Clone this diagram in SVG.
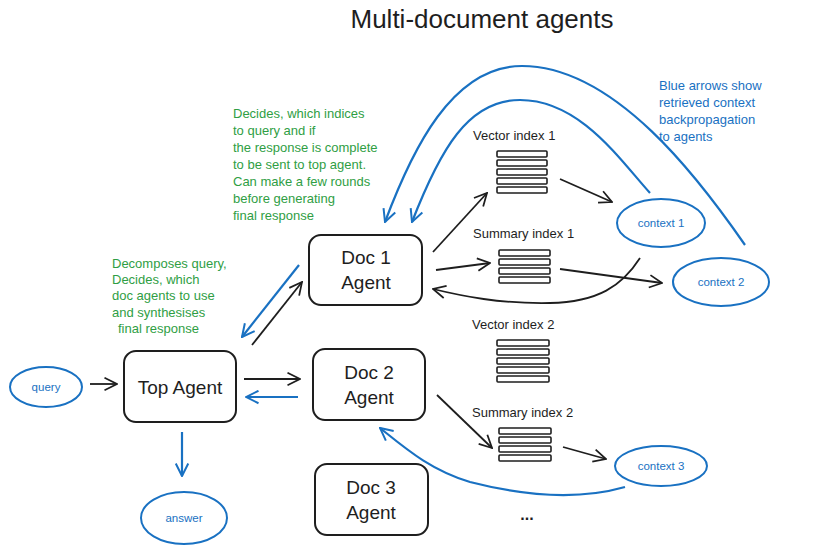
<svg xmlns="http://www.w3.org/2000/svg" width="816" height="556" viewBox="0 0 816 556">
<style>
text{font-family:"Liberation Sans",Arial,sans-serif;}
.box{fill:#fff;stroke:#1e1e1e;stroke-width:2;}
.ell{fill:#fff;stroke:#1971c2;stroke-width:2;}
.bar{fill:#fff;stroke:#1e1e1e;stroke-width:1.6;}
.bt{font-size:19px;fill:#1e1e1e;text-anchor:middle;}
.et{font-size:11.5px;fill:#1971c2;text-anchor:middle;}
.lbl{font-size:13px;fill:#1e1e1e;}
.green{font-size:13px;fill:#2f9e44;}
.blue{font-size:13px;fill:#1971c2;}
.cb{fill:none;stroke:#1e1e1e;stroke-width:1.8;marker-end:url(#ab);}
.cl{fill:none;stroke:#1971c2;stroke-width:2.2;marker-end:url(#abl);}
</style>
<defs>
<marker id="ab" viewBox="0 0 12 12" refX="11" refY="6" markerWidth="15" markerHeight="15" markerUnits="userSpaceOnUse" orient="auto"><path d="M1,1 L11,6 L1,11" fill="none" stroke="#1e1e1e" stroke-width="1.4"/></marker>
<marker id="abl" viewBox="0 0 12 12" refX="11" refY="6" markerWidth="15" markerHeight="15" markerUnits="userSpaceOnUse" orient="auto"><path d="M1,1 L11,6 L1,11" fill="none" stroke="#1971c2" stroke-width="1.6"/></marker>
</defs>
<rect width="816" height="556" fill="#fff"/>
<text x="482" y="28" font-size="26" fill="#1e1e1e" text-anchor="middle">Multi-document agents</text>

<g id="connectors">
<path class="cb" d="M90,384 L117,384"/>
<path class="cb" d="M244,379 L300,379"/>
<path class="cl" d="M298,397 L246,397"/>
<path class="cl" d="M182,432 L182,476"/>
<path class="cb" d="M252,345 L302,282"/>
<path class="cl" d="M299,265 L242,337"/>
<path class="cb" d="M433,252 L487,193"/>
<path class="cb" d="M436,270 L490,263"/>
<path class="cb" d="M560,179 L612,202"/>
<path class="cb" d="M560,269 L662,283"/>
<path class="cb" d="M640,258 C622,286 598,302 550,303 C500,304 462,296 433,289"/>
<path class="cl" d="M745,245 C700,180 615,66 522,66 C452,66 412,150 385,222"/>
<path class="cl" d="M650,193 C620,160 580,100 520,100 C468,100 440,150 412,222"/>
<path class="cb" d="M437,395 L492,448"/>
<path class="cb" d="M563,447 L606,459"/>
<path class="cl" d="M625,487 C590,497 540,500 470,482 C430,470 405,448 380,428"/>
</g>

<g id="query"><ellipse class="ell" cx="46" cy="387" rx="36" ry="20"/><text class="et" x="46" y="391">query</text></g>
<g id="top-agent"><rect class="box" x="124" y="351" width="112" height="71" rx="12"/><text class="bt" x="180" y="394">Top Agent</text></g>
<g id="answer"><ellipse class="ell" cx="184" cy="518" rx="43" ry="26"/><text class="et" x="184" y="522">answer</text></g>
<g id="doc1"><rect class="box" x="309" y="235" width="113" height="70" rx="12"/><text class="bt" x="366" y="264">Doc 1</text><text class="bt" x="366" y="289">Agent</text></g>
<g id="doc2"><rect class="box" x="313" y="349" width="112" height="71" rx="12"/><text class="bt" x="369" y="379">Doc 2</text><text class="bt" x="369" y="404">Agent</text></g>
<g id="doc3"><rect class="box" x="315" y="464" width="113" height="71" rx="12"/><text class="bt" x="371" y="494">Doc 3</text><text class="bt" x="371" y="519">Agent</text></g>

<g id="vector-index-1"><text class="lbl" x="473" y="140">Vector index 1</text>
<rect class="bar" x="497" y="151" width="50" height="6" rx="1"/><rect class="bar" x="497" y="160" width="50" height="6" rx="1"/><rect class="bar" x="497" y="169" width="50" height="6" rx="1"/><rect class="bar" x="497" y="178" width="50" height="6" rx="1"/><rect class="bar" x="497" y="187" width="50" height="6" rx="1"/></g>
<g id="summary-index-1"><text class="lbl" x="473" y="238">Summary index 1</text>
<rect class="bar" x="499" y="250" width="51" height="6" rx="1"/><rect class="bar" x="499" y="259" width="51" height="6" rx="1"/><rect class="bar" x="499" y="268" width="51" height="6" rx="1"/><rect class="bar" x="499" y="277" width="51" height="6" rx="1"/></g>
<g id="vector-index-2"><text class="lbl" x="472" y="329">Vector index 2</text>
<rect class="bar" x="497" y="340" width="52" height="6" rx="1"/><rect class="bar" x="497" y="349" width="52" height="6" rx="1"/><rect class="bar" x="497" y="358" width="52" height="6" rx="1"/><rect class="bar" x="497" y="367" width="52" height="6" rx="1"/><rect class="bar" x="497" y="376" width="52" height="6" rx="1"/></g>
<g id="summary-index-2"><text class="lbl" x="472" y="417">Summary index 2</text>
<rect class="bar" x="499" y="428" width="52" height="6" rx="1"/><rect class="bar" x="499" y="437" width="52" height="6" rx="1"/><rect class="bar" x="499" y="446" width="52" height="6" rx="1"/><rect class="bar" x="499" y="455" width="52" height="6" rx="1"/></g>
<g id="ellipsis"><text x="527" y="520" font-size="16" font-weight="bold" fill="#1e1e1e" text-anchor="middle">...</text></g>

<g id="context1"><ellipse class="ell" cx="661" cy="223" rx="44" ry="24"/><text class="et" x="661" y="227">context 1</text></g>
<g id="context2"><ellipse class="ell" cx="721" cy="282" rx="48" ry="24"/><text class="et" x="721" y="286">context 2</text></g>
<g id="context3"><ellipse class="ell" cx="661" cy="466" rx="46" ry="20"/><text class="et" x="661" y="470">context 3</text></g>

<g id="note-doc-agent"><text class="green" x="233" y="118">Decides, which indices</text><text class="green" x="233" y="135">to query and if</text><text class="green" x="233" y="152">the response is complete</text><text class="green" x="233" y="169">to be sent to top agent.</text><text class="green" x="233" y="186">Can make a few rounds</text><text class="green" x="233" y="203">before generating</text><text class="green" x="233" y="220">final response</text></g>
<g id="note-top-agent"><text class="green" x="112" y="268">Decomposes query,</text><text class="green" x="112" y="284">Decides, which</text><text class="green" x="112" y="300">doc agents to use</text><text class="green" x="112" y="317">and synthesises</text><text class="green" x="118" y="333">final response</text></g>
<g id="note-blue"><text class="blue" x="659" y="90">Blue arrows show</text><text class="blue" x="659" y="107">retrieved context</text><text class="blue" x="659" y="124">backpropagation</text><text class="blue" x="659" y="141">to agents</text></g>
</svg>
